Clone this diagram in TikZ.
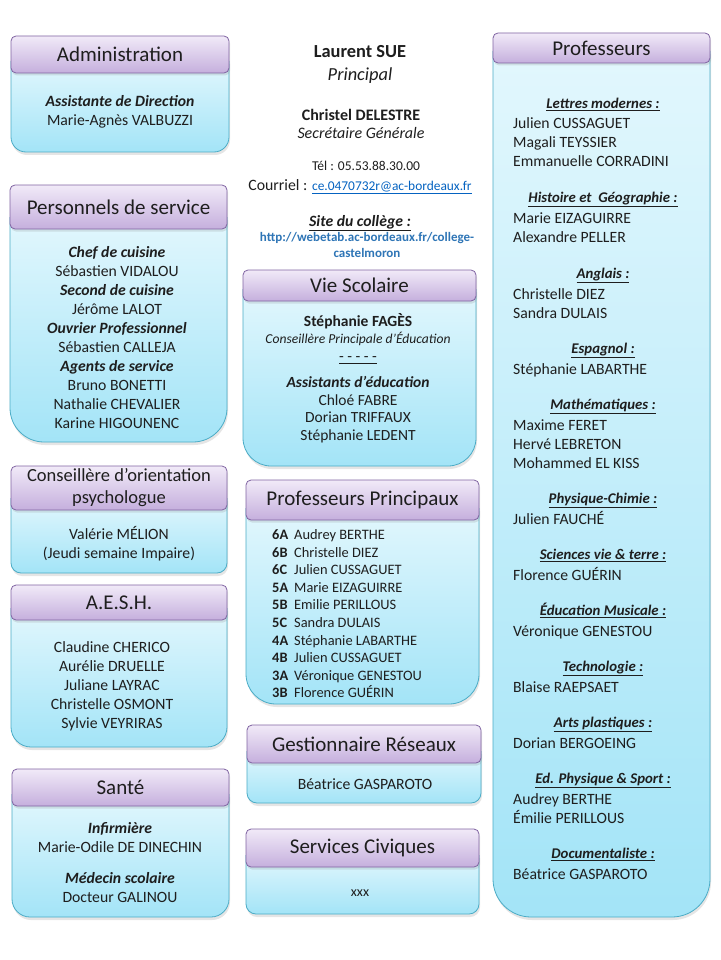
\documentclass[tikz,border=0pt]{standalone}
\usepackage{fontspec}
\setmainfont{Carlito}
\usepackage{xcolor}
\usepackage{tikz}
\usetikzlibrary{shadows}

\definecolor{titletop}{HTML}{F1EAF8}
\definecolor{titlebot}{HTML}{C5AFDD}
\definecolor{titleline}{HTML}{8064A2}
\definecolor{bodytop}{HTML}{E2F7FD}
\definecolor{bodybot}{HTML}{A3E4F7}
\definecolor{bodyline}{HTML}{4BACC6}
\definecolor{linkblue}{HTML}{0563C1}
\definecolor{siteblue}{HTML}{2E75B6}
\definecolor{ink}{HTML}{1E1E1E}

\newcommand{\paneltitlefont}{\fontsize{21}{24}\selectfont}
\newcommand{\panelbodyfont}{\fontsize{15.7}{19}\selectfont}
\newcommand{\subjfmt}[1]{\underline{\textbf{\textit{#1}}}}

% #1 name, #2 left, #3 title top, #4 right, #5 title bottom, #6 bottom, #7 radius, #8 title, #9 title options
\newcommand{\orgpanel}[9]{%
  \draw[panelbody, rounded corners=#7pt] (#2,#5-12) -- (#2,#6) -- (#4,#6) -- (#4,#5-12);
  \node[paneltitle, minimum width={(#4-#2)*1pt}, minimum height={(#5-#3)*1pt}, #9]
    (#1) at ({(#2+#4)/2},{(#3+#5)/2}) {#8};%
}

\begin{document}
\begin{tikzpicture}[
  x=1pt, y=-1pt,
  paneltitle/.style={
    draw=titleline,
    line width=0.8pt,
    rounded corners=5pt,
    top color=titletop,
    bottom color=titlebot,
    inner sep=0pt,
    align=center,
    text=ink,
    font=\paneltitlefont,
    drop shadow={opacity=0.2, shadow xshift=1pt, shadow yshift=-2.5pt}
  },
  panelbody/.style={
    draw=bodyline,
    line width=0.8pt,
    top color=bodytop,
    bottom color=bodybot,
    drop shadow={opacity=0.2, shadow xshift=1pt, shadow yshift=-3pt}
  },
  txt/.style={
    align=center,
    anchor=north,
    inner sep=0pt,
    text=ink,
    font=\panelbodyfont,
    execute at begin node=\strut
  }
]
\fill[white] (0,0) rectangle (720,960);
\useasboundingbox (0,0) rectangle (720,960);

\orgpanel{admin}{11}{36}{229}{73}{152}{15}{Administration}{}
\orgpanel{perso}{10}{185}{227}{229}{442}{34}{Personnels de service}{}
\orgpanel{copsy}{11}{466}{227}{510}{573}{10}{Conseillère d’orientation\\psychologue}{font=\fontsize{18.5}{22}\selectfont}
\orgpanel{aesh}{11}{585}{227}{620}{747}{20}{A.E.S.H.}{}
\orgpanel{sante}{12}{769}{229}{806}{917}{18}{Santé}{}
\orgpanel{viesco}{243}{270}{476}{301}{466}{28}{Vie Scolaire}{}
\orgpanel{pp}{246}{480}{479}{520}{704}{30}{Professeurs Principaux}{}
\orgpanel{reseau}{247}{725}{481}{763}{803}{10}{Gestionnaire Réseaux}{}
\orgpanel{civic}{246}{829}{479}{867}{914}{10}{Services Civiques}{}
\orgpanel{profs}{493}{33}{710}{63}{917}{38}{Professeurs}{}

\node[txt, font=\fontsize{18.4}{23}\selectfont] (principal) at (360,45) {\textbf{Laurent SUE}\\\textit{Principal}};
\node[txt, font=\fontsize{16}{18}\selectfont] (secgen) at (361,109) {\textbf{Christel DELESTRE}\\\textit{Secrétaire Générale}};
\node[txt, anchor=base, font=\fontsize{13.5}{16}\selectfont] (tel) at (366,171) {Tél : 05.53.88.30.00};
\node[txt, anchor=base, font=\fontsize{15.8}{19}\selectfont] (courriel) at (360,190)
  {Courriel : {\fontsize{13.4}{16}\selectfont\textcolor{linkblue}{\underline{ce.0470732r@ac-bordeaux.fr}}}};
\node[txt, anchor=base] (site) at (360,226) {\subjfmt{Site du collège :}};
\node[txt, font=\fontsize{13}{16}\selectfont, text=siteblue] (url) at (367,232)
  {\textbf{http://webetab.ac-bordeaux.fr/college-}\\\textbf{castelmoron}};

\node[txt] (admintxt) at (120,95.5) {\textbf{\textit{Assistante de Direction}}\\Marie-Agnès VALBUZZI};
\node[txt] (persotxt) at (117,246) {\textbf{\textit{Chef de cuisine}}\\Sébastien VIDALOU\\\textbf{\textit{Second de cuisine}}\\Jérôme LALOT\\\textbf{\textit{Ouvrier Professionnel}}\\Sébastien CALLEJA\\\textbf{\textit{Agents de service}}\\Bruno BONETTI\\Nathalie CHEVALIER\\Karine HIGOUNENC};
\node[txt] (copsytxt) at (119,526.5) {Valérie MÉLION\\(Jeudi semaine Impaire)};
\node[txt] (aeshtxt) at (112,641) {Claudine CHERICO\\Aurélie DRUELLE\\Juliane LAYRAC\\Christelle OSMONT\\Sylvie VEYRIRAS};
\node[txt] (santetxt) at (120,822) {\textbf{\textit{Infirmière}}\\Marie-Odile DE DINECHIN\\[12pt]\textbf{\textit{Médecin scolaire}}\\Docteur GALINOU};

\node[txt, font=\fontsize{15.5}{17.7}\selectfont] (viescotxt) at (358,313)
  {\textbf{Stéphanie FAGÈS}\\{\fontsize{13.6}{17.7}\selectfont\textit{Conseillère Principale d’Éducation}}\\\underline{- - - - -}\\[8pt]\textbf{\textit{Assistants d’éducation}}\\Chloé FABRE\\Dorian TRIFFAUX\\Stéphanie LEDENT};

\node[txt, anchor=north west, align=left, font=\fontsize{14.4}{17.56}\selectfont] (pptxt) at (272,529.5)
  {\makebox[22pt][l]{\textbf{6A}}Audrey BERTHE\\
   \makebox[22pt][l]{\textbf{6B}}Christelle DIEZ\\
   \makebox[22pt][l]{\textbf{6C}}Julien CUSSAGUET\\
   \makebox[22pt][l]{\textbf{5A}}Marie EIZAGUIRRE\\
   \makebox[22pt][l]{\textbf{5B}}Emilie PERILLOUS\\
   \makebox[22pt][l]{\textbf{5C}}Sandra DULAIS\\
   \makebox[22pt][l]{\textbf{4A}}Stéphanie LABARTHE\\
   \makebox[22pt][l]{\textbf{4B}}Julien CUSSAGUET\\
   \makebox[22pt][l]{\textbf{3A}}Véronique GENESTOU\\
   \makebox[22pt][l]{\textbf{3B}}Florence GUÉRIN};

\node[txt] (reseautxt) at (365,776) {Béatrice GASPAROTO};
\node[txt, font=\fontsize{14}{19}\selectfont] (civictxt) at (360,883) {xxx};

\foreach \hy/\subj/\who [count=\k] in {
  103/{Lettres modernes :}/{Julien CUSSAGUET\\Magali TEYSSIER\\Emmanuelle CORRADINI},
  197/{Histoire et~ Géographie :}/{Marie EIZAGUIRRE\\Alexandre PELLER},
  273/{Anglais :}/{Christelle DIEZ\\Sandra DULAIS},
  348/{Espagnol :}/{Stéphanie LABARTHE},
  404/{Mathématiques :}/{Maxime FERET\\Hervé LEBRETON\\Mohammed EL KISS},
  498/{Physique-Chimie :}/{Julien FAUCHÉ},
  554/{Sciences vie \& terre :}/{Florence GUÉRIN},
  610/{Éducation Musicale :}/{Véronique GENESTOU},
  666/{Technologie :}/{Blaise RAEPSAET},
  722/{Arts plastiques :}/{Dorian BERGOEING},
  778/{Ed. Physique \& Sport :}/{Audrey BERTHE\\Émilie PERILLOUS},
  853/{Documentaliste :}/{Béatrice GASPAROTO}
}{
  \node[txt, font=\fontsize{14.8}{19}\selectfont] (subj\k) at (603,\hy-8) {\subjfmt{\subj}};
  \node[txt, anchor=north west, align=left] (who\k) at (513,\hy+12.5) {\strut\who};
}
\end{tikzpicture}
\end{document}
